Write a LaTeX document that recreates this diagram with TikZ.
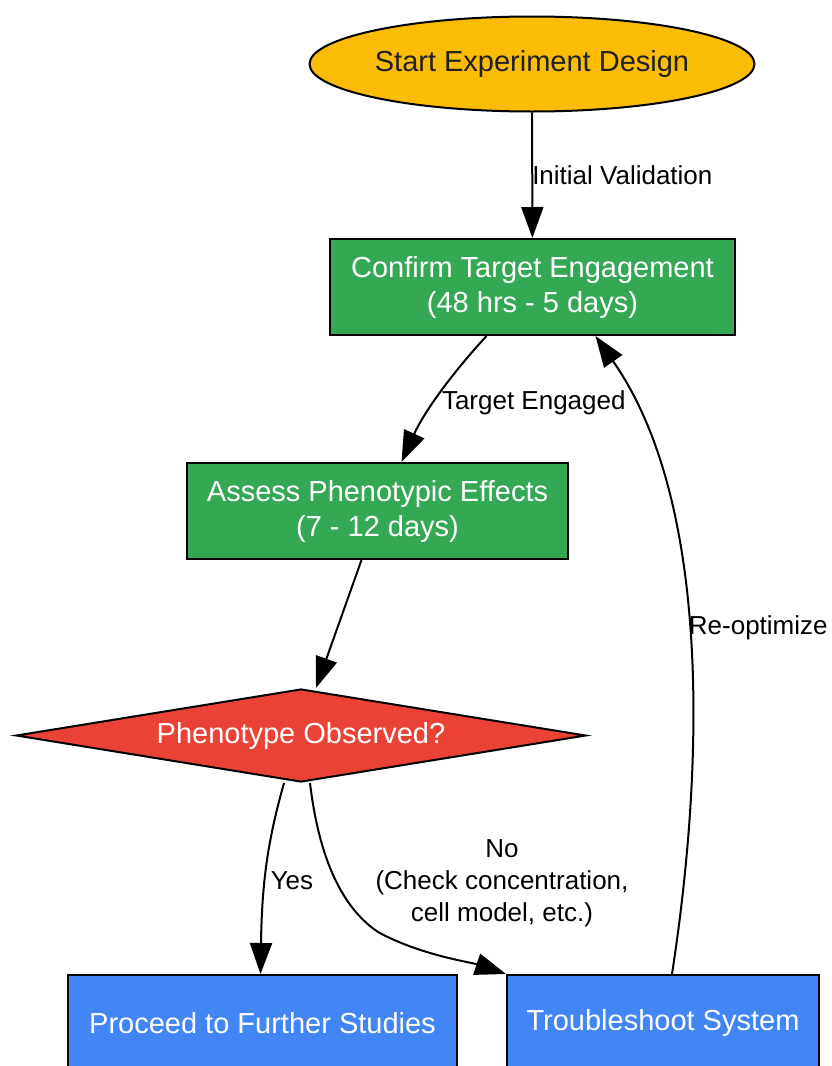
\documentclass[tikz,border=0pt]{standalone}
\usepackage{fontspec}
\setmainfont{Liberation Sans}
\usetikzlibrary{shapes.geometric, arrows.meta}
\definecolor{jaune}{HTML}{FBBC05}
\definecolor{vert}{HTML}{34A853}
\definecolor{rouge}{HTML}{EA4335}
\definecolor{bleu}{HTML}{4285F4}
\definecolor{gris}{HTML}{202124}
\begin{document}
\begin{tikzpicture}[x=1pt, y=-1pt]
	\tikzset{boite/.style={rectangle, draw=black, line width=2pt, text=white, align=center, minimum height=96pt, inner sep=0pt, font=\fontsize{29}{35}\selectfont},
	fleche/.style={line width=2pt, -{Triangle[length=31pt, width=22pt]}},
	etiq/.style={inner sep=0pt, text=black, font=\fontsize{26}{32}\selectfont}};

	\clip (0,0) rectangle (831,1066);

	\node[ellipse, draw=black, line width=2pt, fill=jaune, text=gris, minimum width=445pt, minimum height=95pt, inner sep=0pt, font=\fontsize{29}{35}\selectfont] (debut) at (532,64) {Start Experiment Design};
	\node[boite, fill=vert, minimum width=405pt] (confirm) at (532.5,287) {Confirm Target Engagement\\(48 hrs - 5 days)};
	\node[boite, fill=vert, minimum width=381pt] (assess) at (377.5,511) {Assess Phenotypic Effects\\(7 - 12 days)};
	\node[diamond, aspect=6, draw=black, line width=2pt, fill=rouge, text=white, minimum width=570pt, minimum height=93pt, inner sep=0pt, font=\fontsize{29}{35}\selectfont] (pheno) at (301,735.5) {Phenotype Observed?};
	\foreach \name/\x/\w/\texte in {proceed/262.5/389/Proceed to Further Studies, trouble/663/312/Troubleshoot System}{
		\node[boite, fill=bleu, minimum width=\w pt] (\name) at (\x,1023) {\texte};
	}

	\draw[fleche] (debut) -- node[etiq, right, xshift=-1pt] {Initial Validation} (confirm);
	\draw[fleche] ([xshift=-46pt]confirm.south) .. controls (455,370) and (425,410) .. node[etiq, right, pos=0.5, yshift=-11pt] {Target Engaged} ([xshift=24pt]assess.north);
	\draw[fleche] ([xshift=-16pt]assess.south) -- ([xshift=15pt]pheno.north);
	\draw[fleche] ([xshift=-17pt]pheno.south) .. controls (268,840) and (262,880) .. node[etiq, right, pos=0.55, xshift=4pt, yshift=-7pt] {Yes} ([xshift=-2pt]proceed.north);
	\draw[fleche] ([xshift=9pt]pheno.south) .. controls (318,850) and (338,905) .. (378,932) .. controls (420,955) and (470,962) .. (trouble.north west)
		node[etiq, align=center] at (502,883) {No\\(Check concentration,\\cell model, etc.)};
	\draw[fleche] ([xshift=9pt]trouble.north) .. controls (705,760) and (710,500) .. node[etiq, right, pos=0.52, yshift=-5pt] {Re-optimize} ([xshift=63pt]confirm.south);

\end{tikzpicture}
\end{document}
